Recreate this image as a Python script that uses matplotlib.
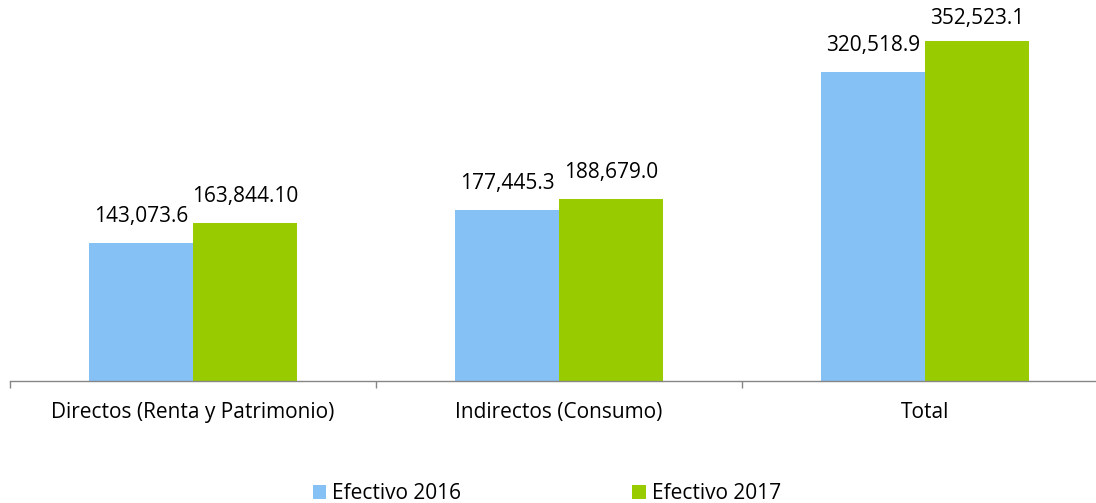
import matplotlib.pyplot as plt
import numpy as np

# data
categories = ["Directos (Renta y Patrimonio)", "Indirectos (Consumo)", "Total"]
efectivo_2016 = [143073.6, 177445.3, 320518.9]
efectivo_2017 = [163844.10, 188679.0, 352523.1]
labels_2016 = ["143,073.6", "177,445.3", "320,518.9"]
labels_2017 = ["163,844.10", "188,679.0", "352,523.1"]

plt.rcParams["font.family"] = ["Open Sans", "DejaVu Sans"]

W, H = 1096, 503
fig = plt.figure(figsize=(W / 100, H / 100), dpi=100)
# axes placed in pixel coords: left 10, right 1108, baseline at y=381
ax = fig.add_axes([10 / W, (H - 381) / H, 1098 / W, 381 / H])

x = np.arange(len(categories))
bw = 104 / 366
b1 = ax.bar(x - bw / 2, efectivo_2016, bw, color="#85C1F5", label="Efectivo 2016")
b2 = ax.bar(x + bw / 2, efectivo_2017, bw, color="#99CC00", label="Efectivo 2017")

ax.set_xlim(-0.5, 2.5)
ax.set_ylim(0, 381 / 340 * 352523.1)

# labels sit ~18px above the bar, but get pushed down near the top edge
for bars, labs in ((b1, labels_2016), (b2, labels_2017)):
    for rect, lab in zip(bars, labs):
        top_px = ax.transData.transform((0, rect.get_height()))[1]
        room = H - 29 - top_px
        off = min(11.5, room * 72 / 100)
        ax.annotate(lab, (rect.get_x() + rect.get_width() / 2, rect.get_height()),
                    xytext=(0, off), textcoords="offset points",
                    ha="center", va="bottom", fontsize=15, color="black")

for s in ("top", "right", "left"):
    ax.spines[s].set_visible(False)
ax.spines["bottom"].set_color("#868686")
ax.spines["bottom"].set_linewidth(1.0)
ax.set_yticks([])

ax.set_xticks(x)
ax.set_xticklabels(categories, fontsize=15, color="black")
ax.tick_params(axis="x", which="major", length=0, pad=15)
ax.set_xticks([-0.5, 0.5, 1.5, 2.5], minor=True)
ax.tick_params(axis="x", which="minor", length=5, color="#868686", width=1)

fig.legend(handles=[b1, b2], loc="lower center", bbox_to_anchor=(0.499, -0.04),
           ncol=2, frameon=False, fontsize=15, handlelength=0.65,
           handleheight=0.65, handletextpad=0.3, columnspacing=8.2)

fig.savefig("out.png", dpi=100)
